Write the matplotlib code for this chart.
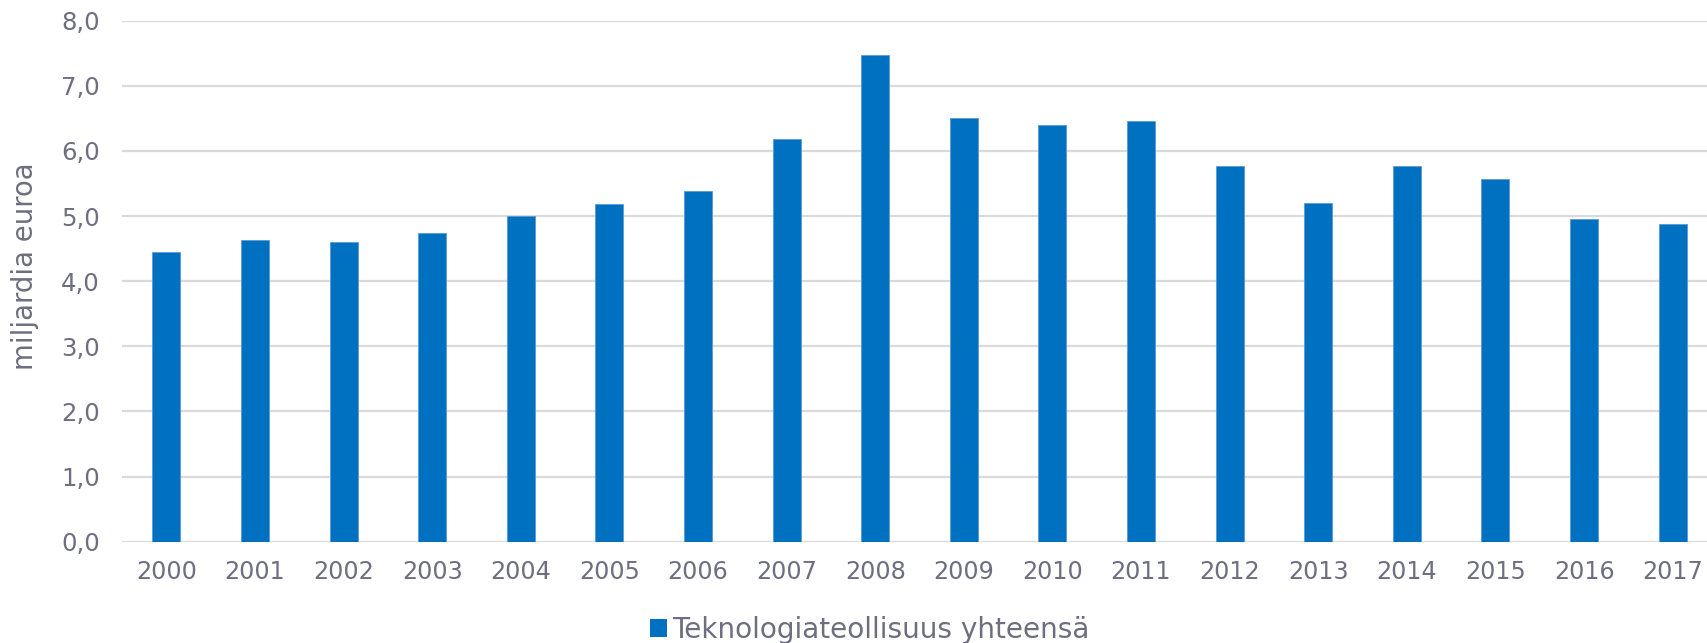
import numpy as np
import matplotlib.pyplot as plt
from matplotlib.patches import Patch

years = ['2000', '2001', '2002', '2003', '2004', '2005', '2006', '2007', '2008',
         '2009', '2010', '2011', '2012', '2013', '2014', '2015', '2016', '2017']
values = [4.45, 4.63, 4.60, 4.74, 5.00, 5.18, 5.38, 6.19, 7.48,
          6.50, 6.40, 6.46, 5.77, 5.20, 5.77, 5.57, 4.95, 4.88]
yticks = [0, 1, 2, 3, 4, 5, 6, 7, 8]
series_name = 'Teknologiateollisuus yhteensä'

barColor = '#0070C0'
textColor = '#6e6e80'
gridColor = '#d9d9de'

fig = plt.figure(figsize=(17.08, 6.43), dpi=100)
# axes extends a bit past the right edge, like the original crop
ax = fig.add_axes([122/1708, 101.3/643, 1595/1708, 521/643])

x = np.arange(len(years))
ax.bar(x, values, width=0.316, color=barColor, edgecolor='#5b9bd5', linewidth=0.6, zorder=3)

ax.set_xlim(-0.5, len(years) - 0.5)
ax.set_ylim(0, 8)
ax.set_yticks(yticks)
ax.set_yticklabels([('%.1f' % v).replace('.', ',') for v in yticks])
ax.set_xticks(x)
ax.set_xticklabels(years)

ax.grid(axis='y', color=gridColor, linewidth=1.6, zorder=0)
for s in ax.spines.values():
    s.set_visible(False)
ax.tick_params(axis='both', length=0, colors=textColor)
ax.tick_params(axis='x', pad=13, labelsize=17.2)
ax.tick_params(axis='y', pad=16, labelsize=17.6)

# y label sits a bit above the axes centre in the original
fig.text(25/1708, 1 - 266.5/643, 'miljardia euroa', rotation=90, ha='center', va='center',
         fontsize=19.8, color=textColor)

handle = Patch(facecolor=barColor, edgecolor='none')
fig.legend([handle], [series_name], loc='center', bbox_to_anchor=(870/1708, 1 - 630/643),
           frameon=False, fontsize=20.1, labelcolor=textColor,
           handlelength=0.6, handleheight=0.6, handletextpad=0.2)

fig.savefig('out.png', dpi=100)
